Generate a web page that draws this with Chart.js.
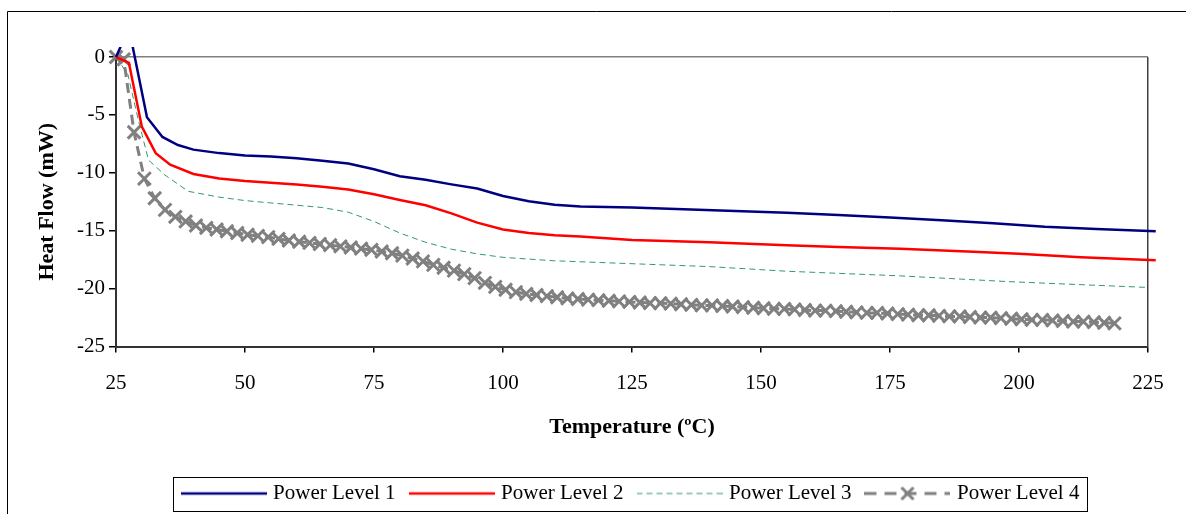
<!DOCTYPE html>
<html>
<head>
<meta charset="utf-8">
<script src="https://cdn.jsdelivr.net/npm/chart.js@4/dist/chart.umd.min.js"></script>
<style>
  html, body { margin: 0; padding: 0; background: #fff; }
  canvas { display: block; }
</style>
</head>
<body>
<canvas id="heatChart" width="1186" height="514"></canvas>
<script>
// axis ticks
const tempTicks = [25, 50, 75, 100, 125, 150, 175, 200, 225];
const flowTicks = [0, -5, -10, -15, -20, -25];

// Power Level 1
const blueTemp = [25, 27.5, 31, 34, 37, 40, 45, 50, 55, 60, 65, 70, 75, 80, 85, 90, 95, 100, 105, 110,
  115, 125, 135, 145, 155, 165, 175, 185, 195, 205, 215, 226.5];
const blueFlow = [0, 2.5, -5.2, -6.9, -7.6, -8.0, -8.3, -8.5, -8.6, -8.75, -8.95, -9.2, -9.7, -10.3, -10.6, -11.0, -11.35, -12.0, -12.45, -12.75,
  -12.9, -13.0, -13.15, -13.3, -13.45, -13.65, -13.85, -14.1, -14.35, -14.65, -14.85, -15.05];

// Power Level 2
const redTemp = [25, 27.5, 30, 32.7, 35.5, 40, 45, 50, 55, 60, 65, 70, 75, 80, 85, 90, 95, 100, 105, 110,
  115, 125, 140, 155, 165, 177, 190, 200, 212, 226.5];
const redFlow = [0, -0.5, -6.0, -8.3, -9.3, -10.1, -10.5, -10.7, -10.85, -11.0, -11.2, -11.45, -11.85, -12.35, -12.8, -13.5, -14.3, -14.9, -15.2, -15.4,
  -15.5, -15.8, -16.0, -16.25, -16.4, -16.55, -16.8, -17.0, -17.3, -17.56];

// Power Level 3
const greenTemp = [25, 27.3, 29.3, 31.3, 34.5, 39, 45, 50, 55, 60, 65, 70, 75, 80, 85, 90, 95, 100, 110, 125,
  140, 155, 177, 198, 225];
const greenFlow = [0, -1.5, -5.4, -8.9, -10.2, -11.6, -12.1, -12.4, -12.6, -12.8, -13.0, -13.4, -14.2, -15.2, -16.0, -16.6, -17.0, -17.3, -17.6, -17.85,
  -18.1, -18.5, -18.9, -19.4, -19.9];

// Power Level 4
const grayTemp = [
  25, 26.5, 28.5, 30.5, 32.5, 34.5, 36.5, 38.5, 40.5, 42.5,
  44.5, 46.5, 48.5, 50.5, 52.5, 54.5, 56.5, 58.5, 60.5, 62.5,
  64.5, 66.5, 68.5, 70.5, 72.5, 74.5, 76.5, 78.5, 80.5, 82.5,
  84.5, 86.5, 88.5, 90.5, 92.5, 94.5, 96.5, 98.5, 100.5, 102.5,
  104.5, 106.5, 108.5, 110.5, 112.5, 114.5, 116.5, 118.5, 120.5, 122.5,
  124.5, 126.5, 128.5, 130.5, 132.5, 134.5, 136.5, 138.5, 140.5, 142.5,
  144.5, 146.5, 148.5, 150.5, 152.5, 154.5, 156.5, 158.5, 160.5, 162.5,
  164.5, 166.5, 168.5, 170.5, 172.5, 174.5, 176.5, 178.5, 180.5, 182.5,
  184.5, 186.5, 188.5, 190.5, 192.5, 194.5, 196.5, 198.5, 200.5, 202.5,
  204.5, 206.5, 208.5, 210.5, 212.5, 214.5, 216.5, 218.5];
const grayFlow = [
  0, -0.2, -6.5, -10.5, -12.2, -13.2, -13.8, -14.2, -14.55, -14.75,
  -14.9, -15.05, -15.2, -15.35, -15.45, -15.55, -15.7, -15.85, -15.95, -16.05,
  -16.15, -16.25, -16.35, -16.45, -16.55, -16.65, -16.8, -16.95, -17.15, -17.4,
  -17.65, -17.95, -18.2, -18.45, -18.75, -19.1, -19.5, -19.85, -20.1, -20.3,
  -20.45, -20.55, -20.65, -20.75, -20.85, -20.9, -20.95, -21.0, -21.05, -21.1,
  -21.15, -21.2, -21.25, -21.25, -21.3, -21.35, -21.4, -21.45, -21.45, -21.5,
  -21.55, -21.6, -21.65, -21.7, -21.75, -21.75, -21.8, -21.85, -21.9, -21.9,
  -21.95, -22.0, -22.05, -22.1, -22.1, -22.15, -22.2, -22.25, -22.3, -22.3,
  -22.35, -22.4, -22.4, -22.45, -22.5, -22.5, -22.55, -22.6, -22.65, -22.7,
  -22.7, -22.75, -22.8, -22.85, -22.85, -22.9, -22.95, -23.0];

const seriesNames = ['Power Level 1', 'Power Level 2', 'Power Level 3', 'Power Level 4'];

function points(xs, ys) {
  return xs.map((x, i) => ({ x: x, y: ys[i] }));
}

// small line sample used as the legend symbol
function sample(color, width, dash, marker) {
  const c = document.createElement('canvas');
  c.width = 86; c.height = 16;
  const g = c.getContext('2d');
  g.strokeStyle = color;
  g.lineWidth = width;
  g.setLineDash(dash);
  g.beginPath(); g.moveTo(0, 8); g.lineTo(86, 8); g.stroke();
  if (marker) {
    g.setLineDash([]);
    g.lineWidth = 3;
    g.beginPath();
    g.moveTo(37, 2); g.lineTo(49, 14);
    g.moveTo(49, 2); g.lineTo(37, 14);
    g.stroke();
  }
  return c;
}

const serif = 'Liberation Serif';
Chart.defaults.font.family = serif;
Chart.defaults.color = '#000';

const clipArea = { left: 8, top: 10, right: 9, bottom: 6 };

const frame = {
  id: 'frame',
  afterDraw(chart) {
    const ctx = chart.ctx;
    ctx.save();
    ctx.strokeStyle = '#000';
    ctx.lineWidth = 1;
    ctx.beginPath();
    ctx.moveTo(7.5, 514); ctx.lineTo(7.5, 11.5); ctx.lineTo(1186, 11.5);
    ctx.stroke();
    const boxes = chart.legend.legendHitBoxes;
    if (boxes && boxes.length) {
      const first = boxes[0], last = boxes[boxes.length - 1];
      const cy = first.top + first.height / 2;
      const l = Math.round(first.left - 12) + 0.5;
      const r = Math.round(last.left + last.width + 8) + 0.5;
      ctx.strokeRect(l, Math.round(cy - 17) + 0.5, r - l, 34);
    }
    ctx.restore();
  }
};

new Chart(document.getElementById('heatChart'), {
  type: 'line',
  data: {
    datasets: [
      {
        label: seriesNames[0],
        data: points(blueTemp, blueFlow),
        borderColor: '#000080',
        borderWidth: 2.5,
        pointRadius: 0,
        tension: 0,
        clip: clipArea,
        legendSample: sample('#000080', 2.5, [])
      },
      {
        label: seriesNames[1],
        data: points(redTemp, redFlow),
        borderColor: '#ff0000',
        borderWidth: 2.5,
        pointRadius: 0,
        tension: 0,
        clip: clipArea,
        legendSample: sample('#ff0000', 2.5, [])
      },
      {
        label: seriesNames[2],
        data: points(greenTemp, greenFlow),
        borderColor: '#339966',
        borderWidth: 1,
        borderDash: [6, 4],
        pointRadius: 0,
        tension: 0,
        clip: clipArea,
        legendSample: sample('#339966', 1, [6, 4])
      },
      {
        label: seriesNames[3],
        data: points(grayTemp, grayFlow),
        borderColor: '#808080',
        borderWidth: 3,
        borderDash: [10, 6],
        pointStyle: 'crossRot',
        pointRadius: 9,
        pointBorderWidth: 3,
        pointBorderColor: '#808080',
        tension: 0,
        clip: clipArea,
        legendSample: sample('#808080', 3, [12, 8], true)
      }
    ]
  },
  options: {
    responsive: false,
    animation: false,
    devicePixelRatio: 1,
    layout: { padding: { left: 8, top: 57, right: 38, bottom: 0 } },
    plugins: {
      tooltip: { enabled: false },
      legend: {
        position: 'bottom',
        fullSize: false,
        labels: {
          font: { size: 21 },
          padding: 17,
          usePointStyle: true,
          pointStyleWidth: 78,
          generateLabels(chart) {
            return chart.data.datasets.map((ds, i) => ({
              text: ds.label,
              pointStyle: ds.legendSample,
              lineWidth: 0,
              strokeStyle: 'transparent',
              fillStyle: 'transparent',
              hidden: false,
              datasetIndex: i
            }));
          }
        }
      }
    },
    scales: {
      x: {
        type: 'linear',
        min: 25,
        max: 225,
        afterBuildTicks(s) { s.ticks = tempTicks.map(v => ({ value: v })); },
        afterFit(s) { s.height = 119.5; },
        ticks: { font: { size: 21 }, padding: 18, maxRotation: 0 },
        grid: {
          color: c => (c.tick && c.tick.value === 225) ? '#404040' : 'rgba(0,0,0,0)',
          tickColor: '#000',
          tickLength: 6,
          lineWidth: 1.5
        },
        border: { color: '#333', width: 2 },
        title: {
          display: true,
          text: 'Temperature (ºC)',
          font: { size: 22, weight: 'bold' },
          padding: { top: 0, bottom: 25 }
        }
      },
      y: {
        type: 'linear',
        min: -25,
        max: 0,
        afterBuildTicks(s) { s.ticks = flowTicks.map(v => ({ value: v })); },
        afterFit(s) { s.width = 108; },
        ticks: { font: { size: 21 }, padding: 4 },
        grid: {
          color: c => (c.tick && c.tick.value === 0) ? '#808080' : 'rgba(0,0,0,0)',
          tickColor: '#000',
          tickLength: 7,
          lineWidth: 1.5
        },
        border: { color: '#333', width: 2 },
        title: {
          display: true,
          text: 'Heat Flow (mW)',
          font: { size: 22, weight: 'bold' },
          padding: { top: 26, bottom: 0 }
        }
      }
    }
  },
  plugins: [frame]
});
</script>
</body>
</html>
